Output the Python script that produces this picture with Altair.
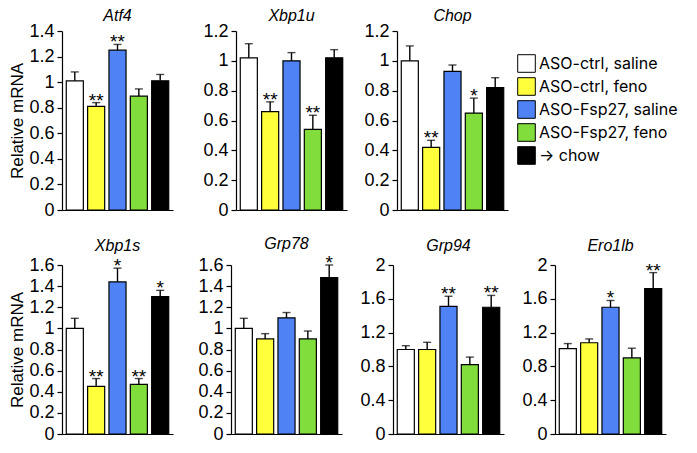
import altair as alt
import pandas as pd

groups = ["ASO-ctrl, saline", "ASO-ctrl, feno", "ASO-Fsp27, saline", "ASO-Fsp27, feno", "→ chow"]
colors = ["#FFFFFF", "#FFFF3C", "#4F83F5", "#80DD3C", "#000000"]

atf4_mean = [1.01, 0.81, 1.25, 0.89, 1.01]
atf4_err = [0.07, 0.03, 0.045, 0.057, 0.05]
atf4_sig = ["", "**", "**", "", ""]

xbp1u_mean = [1.02, 0.66, 1.0, 0.54, 1.02]
xbp1u_err = [0.095, 0.065, 0.055, 0.095, 0.055]
xbp1u_sig = ["", "**", "", "**", ""]

chop_mean = [1.0, 0.42, 0.93, 0.65, 0.82]
chop_err = [0.10, 0.047, 0.042, 0.10, 0.067]
chop_sig = ["", "**", "", "*", ""]

xbp1s_mean = [1.0, 0.45, 1.44, 0.47, 1.30]
xbp1s_err = [0.095, 0.075, 0.13, 0.055, 0.06]
xbp1s_sig = ["", "**", "*", "**", "*"]

grp78_mean = [1.0, 0.9, 1.1, 0.9, 1.48]
grp78_err = [0.095, 0.05, 0.05, 0.075, 0.12]
grp78_sig = ["", "", "", "", "*"]

grp94_mean = [1.0, 1.0, 1.51, 0.82, 1.5]
grp94_err = [0.045, 0.085, 0.12, 0.09, 0.14]
grp94_sig = ["", "", "**", "", "**"]

ero1lb_mean = [1.01, 1.08, 1.5, 0.9, 1.72]
ero1lb_err = [0.06, 0.045, 0.08, 0.115, 0.19]
ero1lb_sig = ["", "", "*", "", "**"]

ticks_14 = [0, 0.2, 0.4, 0.6, 0.8, 1.0, 1.2, 1.4]
ticks_12 = [0, 0.2, 0.4, 0.6, 0.8, 1.0, 1.2]
ticks_16 = [0, 0.2, 0.4, 0.6, 0.8, 1.0, 1.2, 1.4, 1.6]
ticks_20 = [0, 0.4, 0.8, 1.2, 1.6, 2.0]

FONT = "Liberation Sans"

legend = alt.Legend(
    title=None, orient="none", legendX=455, legendY=23,
    symbolType="square", symbolSize=310, symbolStrokeColor="black",
    symbolStrokeWidth=1, symbolOpacity=1, labelFontSize=16, labelFont="Inter",
    labelColor="black", rowPadding=0, labelOffset=3, labelLimit=300,
)


def panel(gene, mean, err, sig, ticks, height, ytitle, toff):
    df = pd.DataFrame({
        "group": groups,
        "mean": mean,
        "top": [m + e for m, e in zip(mean, err)],
        "sig": sig,
    })
    x = alt.X("group:N", sort=groups,
              scale=alt.Scale(domain=groups, paddingInner=0.2, paddingOuter=0.2),
              axis=alt.Axis(labels=False, ticks=False, title=None,
                            domainColor="black", domainWidth=1.2))
    yscale = alt.Scale(domain=[0, ticks[-1]], nice=False)
    yaxis = alt.Axis(values=ticks, format=".1~f", tickSize=5, tickColor="black",
                     tickWidth=1.2, domainColor="black", domainWidth=1.2,
                     labelFontSize=18, labelFont=FONT, labelColor="black",
                     labelPadding=3, labelOverlap=False, labelFlush=False,
                     labelBound=False, grid=False,
                     title=ytitle, titleFontSize=17, titleFont=FONT,
                     titleFontWeight="normal", titleColor="black", titlePadding=2)
    base = alt.Chart(df)
    bars = base.mark_bar(stroke="black", strokeWidth=1.2).encode(
        x=x,
        y=alt.Y("mean:Q", scale=yscale, axis=yaxis),
        color=alt.Color("group:N", scale=alt.Scale(domain=groups, range=colors), legend=legend),
    )
    rule = base.mark_rule(color="black", strokeWidth=1.4).encode(
        x=x, y=alt.Y("mean:Q", scale=yscale, axis=yaxis), y2="top:Q")
    cap = base.mark_tick(color="black", thickness=1.4, size=8).encode(
        x=x, y=alt.Y("top:Q", scale=yscale, axis=yaxis))
    stars = base.mark_text(fontSize=19, font=FONT, baseline="alphabetic", dy=4,
                           color="black").encode(
        x=x, y=alt.Y("top:Q", scale=yscale, axis=yaxis), text="sig:N")
    return alt.layer(bars, rule, cap, stars).properties(
        width=111, height=height,
        title=alt.TitleParams(gene, fontStyle="italic", fontSize=16, font=FONT,
                              fontWeight="normal", color="black", offset=toff, anchor="middle"),
    )


top = alt.hconcat(
    panel("Atf4", atf4_mean, atf4_err, atf4_sig, ticks_14, 179, "Relative mRNA", -2),
    alt.hconcat(
        panel("Xbp1u", xbp1u_mean, xbp1u_err, xbp1u_sig, ticks_12, 179, None, -2),
        panel("Chop", chop_mean, chop_err, chop_sig, ticks_12, 179, None, -2),
        spacing=16,
    ),
    spacing=29,
)
bottom = alt.hconcat(
    panel("Xbp1s", xbp1s_mean, xbp1s_err, xbp1s_sig, ticks_16, 169, "Relative mRNA", 2),
    alt.hconcat(
        panel("Grp78", grp78_mean, grp78_err, grp78_sig, ticks_16, 169, None, 2),
        panel("Grp94", grp94_mean, grp94_err, grp94_sig, ticks_20, 169, None, 2),
        panel("Ero1lb", ero1lb_mean, ero1lb_err, ero1lb_sig, ticks_20, 169, None, 2),
        spacing=17,
    ),
    spacing=24,
)

chart = alt.vconcat(top, bottom, spacing=17).properties(
    padding=0, background="white"
).configure_view(stroke=None)

chart.save("out.html", embed_options={"renderer": "svg", "actions": False})
